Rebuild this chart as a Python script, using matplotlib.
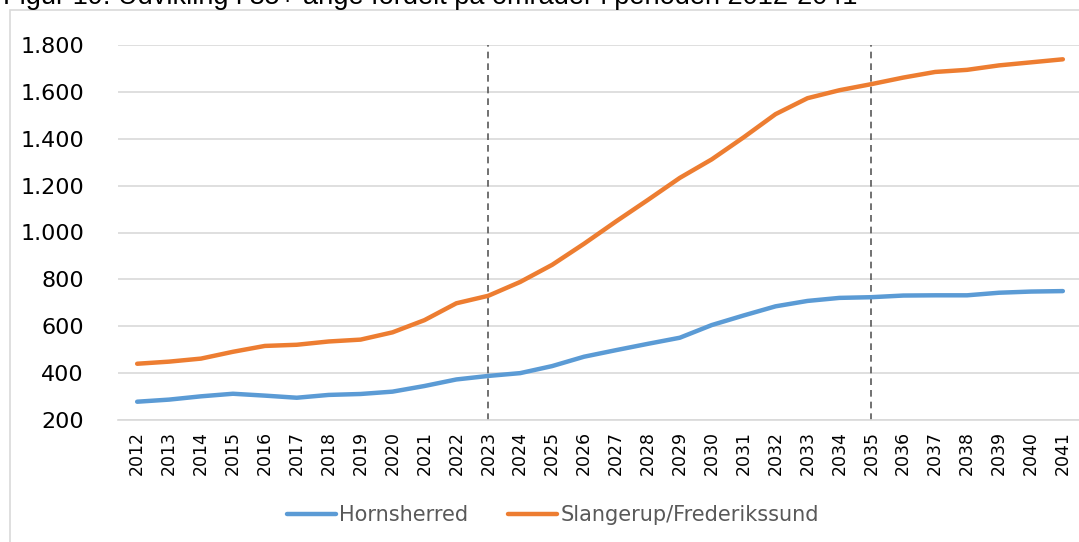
import matplotlib
matplotlib.use("Agg")
import matplotlib.pyplot as plt
from matplotlib.patches import Rectangle

years = list(range(2012, 2042))
hornsherred = [278, 287, 301, 312, 304, 295, 307, 311, 321, 345, 373, 388, 400,
               430, 470, 498, 525, 551, 605, 646, 685, 708, 721, 724, 731, 732,
               732, 743, 748, 750]
slangerup = [440, 449, 462, 491, 516, 521, 535, 543, 574, 626, 698, 730, 789,
             862, 952, 1047, 1139, 1233, 1312, 1406, 1505, 1573, 1607, 1633,
             1661, 1685, 1694, 1713, 1726, 1739]
marker_years = [2023, 2035]
yticks = [200, 400, 600, 800, 1000, 1200, 1400, 1600, 1800]
title = "Figur 19: Udvikling i 85+ årige fordelt på områder i perioden 2012-2041"

plt.rcParams["font.family"] = "DejaVu Sans"

fig = plt.figure(figsize=(10.79, 5.42), dpi=100)
ax = fig.add_axes([118 / 1079, 122 / 542, 964 / 1079, 375 / 542])

x = list(range(len(years)))
ax.plot(x, hornsherred, color="#5b9bd5", linewidth=3.2, solid_capstyle="round", label="Hornsherred", zorder=3)
ax.plot(x, slangerup, color="#ed7d31", linewidth=3.2, solid_capstyle="round", label="Slangerup/Frederikssund", zorder=3)

# dashed period markers
for yr in marker_years:
    ax.axvline(years.index(yr), color="#595959", linestyle=(0, (4, 3)), linewidth=1.2, zorder=2)

ax.set_xlim(-0.6, len(years) - 0.4)
ax.set_ylim(200, 1800)
ax.set_yticks(yticks)
ax.set_yticklabels([f"{v:,}".replace(",", ".") for v in yticks])
ax.set_xticks(x)
ax.set_xticklabels([str(y) for y in years], rotation=90)
ax.tick_params(axis="y", length=0, pad=24.5, labelsize=16)
ax.tick_params(axis="x", length=0, pad=8, labelsize=12.5)
ax.grid(axis="y", color="#d9d9d9", linewidth=1.2)
ax.set_axisbelow(True)
for s in ["top", "right", "left"]:
    ax.spines[s].set_visible(False)
ax.spines["bottom"].set_color("#d9d9d9")
ax.spines["bottom"].set_linewidth(1.2)

# chart frame
fig.patches.append(Rectangle((10 / 1079, -0.1), 1.2, 1.1 - 10 / 542, transform=fig.transFigure,
                             fill=False, edgecolor="#d9d9d9", linewidth=1.2))

# title sits partly above the image, as in the source
fig.text(3 / 1079, 1 - 4 / 542, title, fontsize=19.5, va="baseline", ha="left",
         family="Liberation Sans")

leg = fig.legend(loc="center", bbox_to_anchor=(553 / 1079, 1 - 515 / 542), ncol=2, frameon=False,
                 fontsize=15, handlelength=2.36, handletextpad=0.15, columnspacing=1.9)
for t in leg.get_texts():
    t.set_color("#595959")

fig.savefig("out.png", dpi=100)
